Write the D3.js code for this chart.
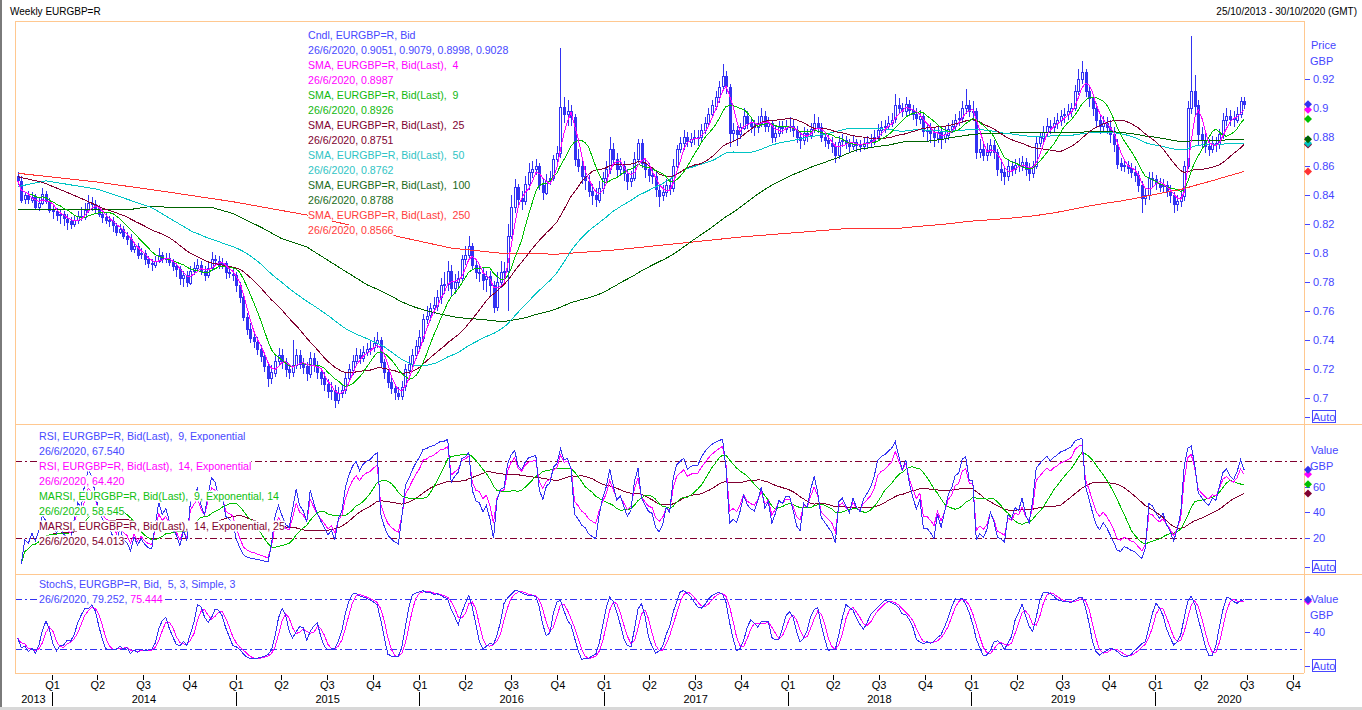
<!DOCTYPE html>
<html lang="en">
<head>
<meta charset="UTF-8" />
<title>Weekly EURGBP=R</title>
<style>
  html, body { margin:0; padding:0; background:#fff; }
  svg { display:block; font-family:"Liberation Sans", Arial, sans-serif; }
  text { white-space:pre; }
</style>
</head>
<body>
<svg id="chart" width="1362" height="710"></svg>
<script src="https://d3js.org/d3.v7.min.js"></script>
<script>
// one bar per week, first bar Fri 25/10/2013, last 26/6/2020
const firstWeek = new Date(2013, 9, 25);
const firstOpen = 0.8530;

const closes = [
  0.8500,0.8370,0.8400,0.8370,0.8390,0.8320,0.8350,0.8410,0.8360,0.8300,
  0.8290,0.8260,0.8270,0.8240,0.8220,0.8200,0.8230,0.8260,0.8250,0.8300,0.8350,0.8340,0.8310,
  0.8270,0.8250,0.8230,0.8220,0.8190,0.8150,0.8170,0.8120,0.8100,0.8030,0.8050,0.7990,0.8000,
  0.7960,0.7930,0.7920,0.7950,0.7990,0.7960,0.7970,0.7940,0.7910,0.7890,0.7830,0.7850,0.7800,
  0.7880,0.7900,0.7920,0.7880,0.7850,0.7900,0.7960,0.7950,0.7920,0.7930,0.7870,0.7860,0.7850,
  0.7780,0.7700,0.7560,0.7480,0.7420,0.7390,0.7340,0.7290,0.7220,0.7140,0.7180,0.7260,0.7300,
  0.7250,0.7200,0.7180,0.7230,0.7300,0.7240,0.7220,0.7170,0.7280,0.7230,0.7180,0.7140,0.7100,
  0.7050,0.7060,0.6990,0.7040,0.7060,0.7140,0.7200,0.7260,0.7300,0.7280,0.7320,0.7340,0.7350,
  0.7380,0.7400,0.7250,0.7180,0.7110,0.7070,0.7040,0.7020,0.7080,0.7200,0.7240,0.7300,0.7360,
  0.7420,0.7550,0.7570,0.7620,0.7640,0.7700,0.7780,0.7790,0.7880,0.7760,0.7800,0.7830,0.7960,
  0.7990,0.8050,0.7920,0.7870,0.7860,0.7820,0.7840,0.7780,0.7630,0.7800,0.7870,0.7880,0.8120,
  0.8320,0.8460,0.8380,0.8360,0.8480,0.8560,0.8580,0.8600,0.8470,0.8420,0.8500,0.8520,0.8650,
  0.8690,0.9010,0.8960,0.8980,0.8940,0.8650,0.8600,0.8530,0.8500,0.8430,0.8400,0.8370,0.8450,0.8520,
  0.8580,0.8720,0.8650,0.8580,0.8600,0.8550,0.8500,0.8520,0.8650,0.8760,0.8620,0.8580,0.8540,
  0.8530,0.8440,0.8400,0.8420,0.8470,0.8450,0.8600,0.8720,0.8760,0.8800,0.8770,0.8790,0.8800,
  0.8800,0.8850,0.8900,0.8960,0.9020,0.9080,0.9150,0.9220,0.9150,0.8830,0.8850,0.8820,0.8870,
  0.8950,0.8900,0.8880,0.8870,0.8900,0.8950,0.8880,0.8900,0.8800,0.8830,0.8870,0.8860,0.8880,
  0.8880,0.8850,0.8800,0.8780,0.8830,0.8820,0.8860,0.8900,0.8870,0.8800,0.8780,0.8760,0.8740,
  0.8680,0.8770,0.8780,0.8760,0.8740,0.8770,0.8750,0.8740,0.8760,0.8770,0.8780,0.8800,0.8850,
  0.8870,0.8880,0.8900,0.8920,0.9020,0.9000,0.8980,0.9030,0.8990,0.8960,0.8930,0.8950,0.8850,
  0.8850,0.8830,0.8800,0.8840,0.8790,0.8820,0.8860,0.8880,0.8920,0.8930,0.9000,0.9020,0.8980,
  0.8980,0.8700,0.8720,0.8680,0.8700,0.8750,0.8700,0.8580,0.8560,0.8530,0.8600,0.8580,0.8610,
  0.8600,0.8630,0.8580,0.8550,0.8600,0.8760,0.8800,0.8840,0.8880,0.8870,0.8900,0.8920,0.8950,
  0.8960,0.8980,0.9000,0.9120,0.9200,0.9250,0.9120,0.9070,0.9000,0.8920,0.8880,0.8900,0.8870,
  0.8820,0.8750,0.8620,0.8600,0.8610,0.8590,0.8560,0.8540,0.8470,0.8380,0.8400,0.8520,0.8510,
  0.8480,0.8460,0.8470,0.8430,0.8400,0.8340,0.8360,0.8390,0.8600,0.9000,0.9120,0.9020,0.8820,
  0.8780,0.8740,0.8720,0.8760,0.8750,0.8820,0.8920,0.8950,0.8930,0.8920,0.8960,0.9051,0.9028
];

const highs = [
  0.8560,0.8530,0.8420,0.8430,0.8420,0.8410,0.8380,0.8450,0.8430,0.8380,
  0.8330,0.8310,0.8300,0.8290,0.8270,0.8250,0.8260,0.8290,0.8320,0.8350,0.8400,0.8390,0.8370,
  0.8330,0.8300,0.8280,0.8260,0.8250,0.8210,0.8200,0.8190,0.8150,0.8130,0.8080,0.8070,0.8040,
  0.8020,0.7980,0.7960,0.7980,0.8040,0.8010,0.8000,0.8000,0.7960,0.7940,0.7910,0.7880,0.7880,
  0.7910,0.7940,0.7960,0.7950,0.7910,0.7930,0.8010,0.7990,0.7980,0.7970,0.7950,0.7900,0.7890,
  0.7870,0.7800,0.7720,0.7590,0.7520,0.7450,0.7420,0.7370,0.7320,0.7250,0.7230,0.7300,0.7350,
  0.7340,0.7280,0.7240,0.7400,0.7340,0.7330,0.7280,0.7250,0.7320,0.7310,0.7260,0.7200,0.7180,
  0.7130,0.7110,0.7090,0.7080,0.7100,0.7180,0.7240,0.7300,0.7350,0.7340,0.7360,0.7380,0.7400,
  0.7420,0.7460,0.7420,0.7270,0.7200,0.7140,0.7100,0.7080,0.7120,0.7240,0.7290,0.7340,0.7400,
  0.7470,0.7580,0.7640,0.7660,0.7700,0.7750,0.7830,0.7870,0.7950,0.7920,0.7860,0.7880,0.7990,
  0.8050,0.8120,0.8070,0.7960,0.7910,0.7900,0.7880,0.7880,0.7810,0.7870,0.7950,0.7940,0.8200,
  0.8400,0.8510,0.8480,0.8430,0.8530,0.8620,0.8640,0.8650,0.8620,0.8510,0.8550,0.8570,0.8680,
  0.8740,0.9415,0.9080,0.9060,0.9020,0.8960,0.8720,0.8650,0.8600,0.8540,0.8480,0.8450,0.8500,0.8560,
  0.8640,0.8800,0.8760,0.8690,0.8660,0.8640,0.8580,0.8570,0.8700,0.8790,0.8790,0.8660,0.8620,
  0.8590,0.8560,0.8470,0.8470,0.8510,0.8510,0.8650,0.8750,0.8800,0.8850,0.8840,0.8830,0.8850,
  0.8850,0.8890,0.8940,0.9000,0.9060,0.9120,0.9190,0.9307,0.9260,0.9170,0.8900,0.8880,0.8900,
  0.9000,0.8980,0.8930,0.8920,0.8950,0.9000,0.8980,0.8940,0.8920,0.8880,0.8910,0.8910,0.8920,
  0.8940,0.8920,0.8880,0.8840,0.8870,0.8860,0.8900,0.8960,0.8940,0.8900,0.8830,0.8820,0.8800,
  0.8770,0.8810,0.8820,0.8810,0.8790,0.8810,0.8790,0.8780,0.8800,0.8810,0.8820,0.8850,0.8890,
  0.8910,0.8920,0.8950,0.8970,0.9100,0.9070,0.9040,0.9080,0.9060,0.9020,0.9000,0.8990,0.8970,
  0.8900,0.8900,0.8870,0.8880,0.8870,0.8870,0.8900,0.8920,0.8960,0.8980,0.9050,0.9130,0.9060,
  0.9050,0.9000,0.8790,0.8770,0.8760,0.8790,0.8780,0.8720,0.8630,0.8600,0.8650,0.8640,0.8650,
  0.8660,0.8670,0.8660,0.8620,0.8640,0.8800,0.8840,0.8880,0.8930,0.8920,0.8940,0.8970,0.8990,
  0.9000,0.9030,0.9040,0.9160,0.9270,0.9325,0.9270,0.9160,0.9100,0.9040,0.8960,0.8950,0.8940,
  0.8920,0.8870,0.8790,0.8660,0.8650,0.8640,0.8620,0.8600,0.8570,0.8500,0.8450,0.8560,0.8560,
  0.8540,0.8520,0.8510,0.8500,0.8470,0.8420,0.8400,0.8440,0.8640,0.9050,0.9500,0.9230,0.9060,
  0.8870,0.8830,0.8790,0.8810,0.8800,0.8860,0.8970,0.9000,0.8990,0.8980,0.9010,0.9080,0.9079
];

const lows = [
  0.8470,0.8350,0.8340,0.8340,0.8350,0.8300,0.8290,0.8330,0.8340,0.8280,
  0.8240,0.8220,0.8200,0.8190,0.8160,0.8170,0.8180,0.8200,0.8220,0.8230,0.8280,0.8290,0.8270,
  0.8250,0.8210,0.8200,0.8180,0.8150,0.8120,0.8130,0.8100,0.8060,0.8010,0.8000,0.7960,0.7960,
  0.7920,0.7900,0.7880,0.7900,0.7930,0.7930,0.7930,0.7910,0.7880,0.7840,0.7780,0.7770,0.7770,
  0.7780,0.7850,0.7870,0.7850,0.7810,0.7830,0.7880,0.7910,0.7890,0.7890,0.7820,0.7830,0.7810,
  0.7730,0.7660,0.7530,0.7440,0.7380,0.7350,0.7300,0.7250,0.7180,0.7080,0.7100,0.7150,0.7230,
  0.7200,0.7150,0.7130,0.7150,0.7200,0.7200,0.7170,0.7120,0.7140,0.7180,0.7130,0.7090,0.7050,
  0.7000,0.6990,0.6935,0.6960,0.7000,0.7030,0.7110,0.7160,0.7230,0.7240,0.7250,0.7290,0.7300,
  0.7320,0.7350,0.7210,0.7130,0.7070,0.7030,0.6990,0.6985,0.6990,0.7050,0.7170,0.7210,0.7270,
  0.7330,0.7390,0.7510,0.7530,0.7580,0.7600,0.7650,0.7720,0.7740,0.7700,0.7720,0.7760,0.7800,
  0.7920,0.7960,0.7890,0.7820,0.7800,0.7750,0.7730,0.7700,0.7590,0.7600,0.7760,0.7780,0.7600,
  0.8100,0.8280,0.8330,0.8300,0.8330,0.8440,0.8520,0.8540,0.8440,0.8370,0.8400,0.8470,0.8500,
  0.8600,0.8660,0.8900,0.8880,0.8880,0.8600,0.8560,0.8480,0.8440,0.8390,0.8330,0.8320,0.8350,0.8410,
  0.8480,0.8550,0.8600,0.8520,0.8530,0.8500,0.8440,0.8460,0.8500,0.8620,0.8590,0.8520,0.8490,
  0.8480,0.8390,0.8320,0.8360,0.8390,0.8400,0.8420,0.8570,0.8690,0.8710,0.8730,0.8730,0.8750,
  0.8740,0.8760,0.8820,0.8870,0.8930,0.8990,0.9040,0.9120,0.9100,0.8730,0.8770,0.8740,0.8790,
  0.8850,0.8860,0.8830,0.8810,0.8830,0.8870,0.8840,0.8840,0.8760,0.8770,0.8800,0.8820,0.8830,
  0.8840,0.8800,0.8760,0.8720,0.8750,0.8770,0.8790,0.8830,0.8830,0.8770,0.8730,0.8720,0.8690,
  0.8620,0.8650,0.8730,0.8720,0.8700,0.8710,0.8700,0.8700,0.8710,0.8720,0.8730,0.8750,0.8780,
  0.8810,0.8830,0.8850,0.8870,0.8900,0.8960,0.8940,0.8950,0.8950,0.8920,0.8880,0.8890,0.8800,
  0.8770,0.8760,0.8730,0.8760,0.8720,0.8760,0.8780,0.8830,0.8850,0.8880,0.8900,0.8960,0.8940,
  0.8910,0.8650,0.8660,0.8640,0.8640,0.8670,0.8650,0.8530,0.8500,0.8470,0.8500,0.8530,0.8550,
  0.8560,0.8570,0.8530,0.8500,0.8520,0.8580,0.8730,0.8770,0.8800,0.8820,0.8840,0.8860,0.8880,
  0.8900,0.8920,0.8940,0.8980,0.9090,0.9170,0.9080,0.9010,0.8950,0.8870,0.8820,0.8830,0.8820,
  0.8760,0.8700,0.8580,0.8570,0.8560,0.8550,0.8520,0.8490,0.8420,0.8277,0.8330,0.8370,0.8460,
  0.8440,0.8420,0.8420,0.8390,0.8350,0.8280,0.8290,0.8320,0.8360,0.8580,0.8960,0.8950,0.8740,
  0.8720,0.8690,0.8670,0.8690,0.8700,0.8720,0.8790,0.8880,0.8880,0.8870,0.8900,0.8930,0.8998
];

// long averages before a full window exists (week index, value)
const sma25LeadWeeks = [0, 7, 14, 19];
const sma25Lead = [0.8528, 0.8490, 0.8420, 0.8368];
const sma50LeadWeeks = [0, 8, 23, 38];
const sma50Lead = [0.8460, 0.8500, 0.8440, 0.8315];
const sma100LeadWeeks = [0, 31, 37, 55, 61, 69, 75, 82, 91];
const sma100Lead = [0.8299, 0.8299, 0.8320, 0.8317, 0.8275, 0.8180, 0.8100, 0.8044, 0.7906];
const sma250LeadWeeks = [0, 23, 42, 61, 82, 106, 123, 137, 153, 169, 194, 205, 237];
const sma250Lead = [0.8552, 0.8490, 0.8425, 0.8356, 0.8264, 0.8126, 0.8036, 0.8001, 0.7994, 0.8022, 0.8084, 0.8112, 0.8174];

const priceTicks = [0.70, 0.72, 0.74, 0.76, 0.78, 0.80, 0.82, 0.84, 0.86, 0.88, 0.90, 0.92];
const rsiTicks = [20, 40, 60];
const rsiBands = [20, 80];
const stochTicks = [40];
const stochBands = [20, 80];
const quarterNames = ["Q1", "Q2", "Q3", "Q4"];

const priceLegend = [
  "Cndl, EURGBP=R, Bid", "26/6/2020, 0.9051, 0.9079, 0.8998, 0.9028",
  "SMA, EURGBP=R, Bid(Last),  4", "26/6/2020, 0.8987",
  "SMA, EURGBP=R, Bid(Last),  9", "26/6/2020, 0.8926",
  "SMA, EURGBP=R, Bid(Last),  25", "26/6/2020, 0.8751",
  "SMA, EURGBP=R, Bid(Last),  50", "26/6/2020, 0.8762",
  "SMA, EURGBP=R, Bid(Last),  100", "26/6/2020, 0.8788",
  "SMA, EURGBP=R, Bid(Last),  250", "26/6/2020, 0.8566"
];
const rsiLegend = [
  "RSI, EURGBP=R, Bid(Last),  9, Exponential", "26/6/2020, 67.540",
  "RSI, EURGBP=R, Bid(Last),  14, Exponential", "26/6/2020, 64.420",
  "MARSI, EURGBP=R, Bid(Last),  9, Exponential, 14", "26/6/2020, 58.545",
  "MARSI, EURGBP=R, Bid(Last),  14, Exponential, 25", "26/6/2020, 54.013"
];
const stochLegend = ["StochS, EURGBP=R, Bid,  5, 3, Simple, 3", "26/6/2020, 79.252, ", "75.444"];

// ---- colours
const col = {
  candle:'#3232f2', axis:'#4646ff', mag:'#ff00ff', green:'#00c000', maroon:'#800030',
  cyan:'#00c4c4', dkgreen:'#006400', red:'#ff3232', border:'#ffc890'
};
const legendCol = ['#4848ff', '#ff00ff', '#10b810', '#800030', '#30c4c4', '#1a6a1a', '#ff3c3c'];

// ---- derived series
const weeks = closes.map((c, i) => ({
  i, date: d3.timeDay.offset(firstWeek, 7 * i),
  open: i ? closes[i - 1] : firstOpen, close: c, high: highs[i], low: lows[i]
}));

function movingAvg(vals, n, partial) {
  return vals.map((v, i) => {
    if (v == null || (i < n - 1 && !partial)) return null;
    return d3.mean(vals.slice(Math.max(0, i - n + 1), i + 1).filter(d => d != null));
  });
}
function withLead(n, leadWeeks, leadVals) {
  const pts = leadWeeks.map((w, k) => [w, leadVals[k]]);
  movingAvg(closes, n, false).forEach((v, i) => { if (v != null) pts.push([i, v]); });
  return pts;
}
const toPts = arr => arr.map((v, i) => [i, v]);

function rsiExp(vals, n) {
  const a = 2 / (n + 1);
  let up = 0, dn = 0;
  return vals.map((v, i) => {
    if (i === 0) return null;
    const ch = v - vals[i - 1];
    const g = Math.max(ch, 0), l = Math.max(-ch, 0);
    if (i <= n) { up = (up * (i - 1) + g) / i; dn = (dn * (i - 1) + l) / i; }
    else { up = a * g + (1 - a) * up; dn = a * l + (1 - a) * dn; }
    return dn === 0 ? 100 : 100 - 100 / (1 + up / dn);
  });
}

const sma4 = toPts(movingAvg(closes, 4, true));
const sma9 = toPts(movingAvg(closes, 9, true));
const sma25 = withLead(25, sma25LeadWeeks, sma25Lead);
const sma50 = withLead(50, sma50LeadWeeks, sma50Lead);
const sma100 = withLead(100, sma100LeadWeeks, sma100Lead);
const sma250 = withLead(250, sma250LeadWeeks, sma250Lead);

const rsi9 = rsiExp(closes, 9);
const rsi14 = rsiExp(closes, 14);
const marsi9 = movingAvg(rsi9, 14, true);
const marsi14 = movingAvg(rsi14, 25, true);

const rawK = weeks.map((w, i) => {
  const win = weeks.slice(Math.max(0, i - 4), i + 1);
  const hh = d3.max(win, d => d.high), ll = d3.min(win, d => d.low);
  return hh === ll ? 50 : (w.close - ll) / (hh - ll) * 100;
});
const slowK = movingAvg(rawK, 3, true);
const slowD = movingAvg(slowK, 3, true);

// ---- layout
const svg = d3.select('#chart');
const plotL = 15, plotR = 1304;
const pTop = 21, pBot = 424, rBot = 574, sBot = 673;

const x = d3.scaleTime().domain([new Date(2014, 0, 1), new Date(2020, 0, 1)]).range([52, 1155]);
const yP = d3.scaleLinear().domain([0.70, 0.92]).range([398.3, 79.3]);
const yR = d3.scaleLinear().domain([20, 80]).range([538, 461.3]);
const yS = d3.scaleLinear().domain([20, 80]).range([649, 599.3]);
const xw = i => x(weeks[i].date);

svg.append('rect').attr('width', 1362).attr('height', 710).attr('fill', '#fff');

const defs = svg.append('defs');
[['clipP', pTop, pBot], ['clipR', pBot, rBot], ['clipS', rBot, sBot]].forEach(([id, t, b]) => {
  defs.append('clipPath').attr('id', id).append('rect')
    .attr('x', plotL + 1).attr('y', t + 1).attr('width', plotR - plotL - 1).attr('height', b - t - 1);
});

// ---- price panel
const gP = svg.append('g').attr('clip-path', 'url(#clipP)');

const candles = gP.append('g').attr('shape-rendering', 'crispEdges');
weeks.forEach(w => {
  const cx = Math.round(xw(w.i));
  candles.append('line')
    .attr('x1', cx + 0.5).attr('x2', cx + 0.5)
    .attr('y1', yP(w.high)).attr('y2', yP(w.low))
    .attr('stroke', col.candle);
  const top = yP(Math.max(w.open, w.close)), bot = yP(Math.min(w.open, w.close));
  candles.append('rect')
    .attr('x', cx - 0.5).attr('width', 2)
    .attr('y', Math.round(top) + 0.5).attr('height', Math.max(1, Math.round(bot - top)))
    .attr('fill', w.close > w.open ? '#fff' : col.candle)
    .attr('stroke', col.candle);
});

const lineP = d3.line().defined(d => d[1] != null).x(d => xw(d[0])).y(d => yP(d[1]));
const maSeries = [
  [sma250, col.red], [sma100, col.dkgreen], [sma50, col.cyan],
  [sma25, col.maroon], [sma9, col.green], [sma4, col.mag]
];
maSeries.forEach(([pts, c]) => {
  gP.append('path').attr('d', lineP(pts)).attr('fill', 'none')
    .attr('stroke', c).attr('stroke-width', 1).attr('shape-rendering', 'crispEdges');
});

// ---- RSI panel
const gR = svg.append('g').attr('clip-path', 'url(#clipR)');
rsiBands.forEach(v => {
  gR.append('line').attr('x1', plotL).attr('x2', plotR)
    .attr('y1', Math.round(yR(v)) + 0.5).attr('y2', Math.round(yR(v)) + 0.5)
    .attr('stroke', col.maroon).attr('stroke-dasharray', '7,3,2,3');
});
const lineR = d3.line().defined(d => d[1] != null).x(d => xw(d[0])).y(d => yR(d[1]));
[[marsi14, col.maroon], [marsi9, col.green], [rsi14, col.mag], [rsi9, col.candle]].forEach(([vals, c]) => {
  gR.append('path').attr('d', lineR(toPts(vals))).attr('fill', 'none')
    .attr('stroke', c).attr('shape-rendering', 'crispEdges');
});

// ---- Stochastic panel
const gS = svg.append('g').attr('clip-path', 'url(#clipS)');
stochBands.forEach(v => {
  gS.append('line').attr('x1', plotL).attr('x2', plotR)
    .attr('y1', Math.round(yS(v)) + 0.5).attr('y2', Math.round(yS(v)) + 0.5)
    .attr('stroke', col.candle).attr('stroke-dasharray', '7,3,2,3');
});
const lineS = d3.line().defined(d => d[1] != null).x(d => xw(d[0])).y(d => yS(d[1]));
[[slowD, col.mag], [slowK, col.candle]].forEach(([vals, c]) => {
  gS.append('path').attr('d', lineS(toPts(vals))).attr('fill', 'none')
    .attr('stroke', c).attr('shape-rendering', 'crispEdges');
});

// ---- legends (text sits on a white box that hides the lines)
function legend(x0, y0, rows) {
  const g = svg.append('g').attr('font-size', '10.6px');
  rows.forEach((r, k) => {
    const t = g.append('text').attr('x', x0).attr('y', y0 + k * 15);
    r.forEach(([s, c]) => t.append('tspan').attr('fill', c).text(s));
    const b = t.node().getBBox();
    g.insert('rect', () => t.node())
      .attr('x', b.x).attr('y', b.y + 1).attr('width', b.width).attr('height', b.height - 1)
      .attr('fill', '#fff');
  });
}
legend(308, 39, priceLegend.map((s, k) => [[s, legendCol[Math.floor(k / 2)]]]));
const rsiCols = ['#4848ff', '#ff00ff', '#10c010', '#800030'];
legend(39, 439.5, rsiLegend.map((s, k) => [[s, rsiCols[Math.floor(k / 2)]]]));
legend(39, 587.5, [[[stochLegend[0], '#4848ff']], [[stochLegend[1], '#4848ff'], [stochLegend[2], '#ff00ff']]]);

// ---- frames
const frame = svg.append('g').attr('stroke', col.border).attr('shape-rendering', 'crispEdges').attr('fill', 'none');
frame.append('line').attr('x1', plotL).attr('x2', plotR).attr('y1', pTop).attr('y2', pTop);
frame.append('line').attr('x1', plotL).attr('x2', 1362).attr('y1', pBot).attr('y2', pBot);
frame.append('line').attr('x1', plotL).attr('x2', 1362).attr('y1', rBot).attr('y2', rBot);
frame.append('line').attr('x1', plotL).attr('x2', plotR).attr('y1', sBot).attr('y2', sBot);
frame.append('line').attr('x1', plotL).attr('x2', plotL).attr('y1', pTop).attr('y2', sBot);
frame.append('line').attr('x1', plotR).attr('x2', plotR).attr('y1', pTop).attr('y2', sBot);

svg.append('rect').attr('x', 0).attr('y', 0).attr('width', 2).attr('height', 710).attr('fill', '#7a7a7a');
svg.append('rect').attr('x', 0).attr('y', 707).attr('width', 1362).attr('height', 3).attr('fill', '#d8d8d8');

// ---- right axes
function rightAxis(scale, ticks, fmt) {
  const g = svg.append('g').attr('transform', `translate(${plotR + 1},0)`)
    .call(d3.axisRight(scale).tickValues(ticks).tickSize(5).tickPadding(3).tickFormat(fmt));
  g.select('.domain').remove();
  g.selectAll('line').attr('stroke', col.axis).attr('shape-rendering', 'crispEdges');
  g.selectAll('text').attr('fill', col.axis).attr('font-size', '11px').attr('font-family', '"Liberation Sans", Arial, sans-serif');
  return g;
}
rightAxis(yP, priceTicks, d => String(+d.toFixed(2)));
rightAxis(yR, rsiTicks, d => d);
rightAxis(yS, stochTicks, d => d);

const axisText = (xx, yy, s) => svg.append('text').attr('x', xx).attr('y', yy)
  .attr('fill', col.axis).attr('font-size', '11px').text(s);
axisText(1311, 49, 'Price'); axisText(1310, 65, 'GBP');
axisText(1311, 454, 'Value'); axisText(1310, 470, 'GBP');
axisText(1311, 603, 'Value'); axisText(1310, 619, 'GBP');

[pBot, rBot, sBot].forEach(b => {
  const yy = b - 7;
  svg.append('line').attr('x1', plotR + 1).attr('x2', plotR + 6).attr('y1', yy + 0.5).attr('y2', yy + 0.5)
    .attr('stroke', col.axis).attr('shape-rendering', 'crispEdges');
  svg.append('rect').attr('x', 1312.5).attr('y', b - 13.5).attr('width', 23).attr('height', 12)
    .attr('fill', '#fff').attr('stroke', col.axis).attr('shape-rendering', 'crispEdges');
  svg.append('text').attr('x', 1324).attr('y', b - 3.5).attr('text-anchor', 'middle')
    .attr('fill', col.axis).attr('font-size', '11px').text('Auto');
});

// last-value diamonds on the right axis
const diamond = 'M0,-4L4,0L0,4L-4,0Z';
const last = arr => arr[arr.length - 1];
const lastPt = pts => last(pts)[1];
[[lastPt(sma250), col.red], [lastPt(sma25), col.maroon], [lastPt(sma50), col.cyan], [lastPt(sma100), col.dkgreen],
 [lastPt(sma9), col.green], [lastPt(sma4), col.mag], [last(closes), col.candle]].forEach(([v, c]) => {
  svg.append('path').attr('d', diamond).attr('transform', `translate(${plotR + 4},${yP(v)})`).attr('fill', c);
});
[[last(marsi14), col.maroon], [last(marsi9), col.green], [last(rsi14), col.mag], [last(rsi9), col.candle]].forEach(([v, c]) => {
  svg.append('path').attr('d', diamond).attr('transform', `translate(${plotR + 4},${yR(v)})`).attr('fill', c);
});
[[last(slowD), col.mag], [last(slowK), col.candle]].forEach(([v, c]) => {
  svg.append('path').attr('d', diamond).attr('transform', `translate(${plotR + 4},${yS(v)})`).attr('fill', c);
});

// ---- time axis
const xLeft = x.invert(plotL), xRight = x.invert(plotR);
const quarters = d3.timeMonth.every(3).range(d3.timeDay.ceil(xLeft), xRight);
const gx = svg.append('g').attr('transform', `translate(0,${sBot + 2})`)
  .call(d3.axisBottom(x).tickValues(quarters).tickSize(5).tickPadding(1)
    .tickFormat(d => quarterNames[Math.floor(d.getMonth() / 3)]));
gx.select('.domain').remove();
gx.selectAll('line').attr('stroke', '#000').attr('shape-rendering', 'crispEdges');
gx.selectAll('text').attr('fill', '#000').attr('font-size', '11px').attr('font-family', '"Liberation Sans", Arial, sans-serif');

const years = d3.timeYear.range(d3.timeYear.floor(xLeft), xRight);
years.forEach(y0 => {
  const y1 = d3.timeYear.offset(y0, 1);
  if (y0 >= xLeft) {
    svg.append('line').attr('x1', Math.round(x(y0)) + 0.5).attr('x2', Math.round(x(y0)) + 0.5)
      .attr('y1', 692).attr('y2', 706).attr('stroke', '#000');
  }
  const a = Math.max(x(y0), plotL), b = Math.min(x(y1), plotR);
  svg.append('text').attr('x', (a + b) / 2).attr('y', 703).attr('text-anchor', 'middle')
    .attr('font-size', '11px').attr('fill', '#000').text(y0.getFullYear());
});

// ---- header
svg.append('text').attr('x', 10).attr('y', 15).attr('font-size', '10px').attr('fill', '#000').text('Weekly EURGBP=R');
svg.append('text').attr('x', 1357).attr('y', 15).attr('text-anchor', 'end').attr('font-size', '10px')
  .attr('fill', '#000').text('25/10/2013 - 30/10/2020 (GMT)');
</script>
</body>
</html>
